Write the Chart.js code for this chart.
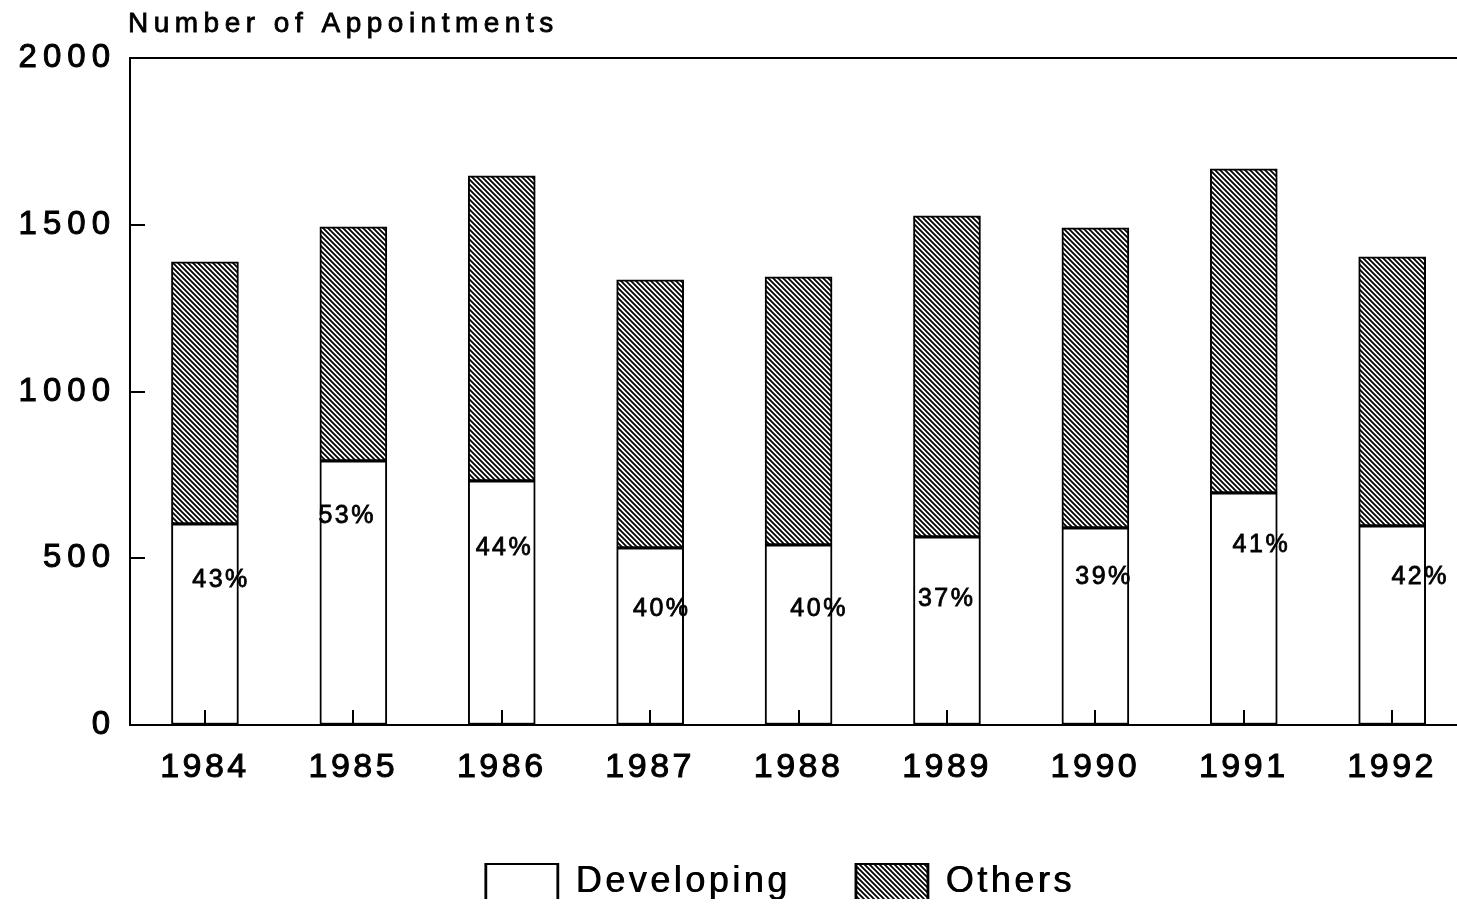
<!DOCTYPE html>
<html><head><meta charset="utf-8">
<script src="https://cdn.jsdelivr.net/npm/chart.js@4/dist/chart.umd.min.js"></script>
<style>html,body{margin:0;padding:0;background:#fff;}canvas{display:block;}</style>
</head><body>
<canvas id="c" width="1457" height="905"></canvas>
<script>
// ---- data ----
const years = [1984, 1985, 1986, 1987, 1988, 1989, 1990, 1991, 1992];
const xTickLabels = ['1984', '1985', '1986', '1987', '1988', '1989', '1990', '1991', '1992'];
const developing = [603, 792, 732, 531, 540, 564, 591, 696, 597];
const others = [786, 702, 915, 804, 804, 963, 900, 972, 807];
const shareLabels = ['43%', '53%', '44%', '40%', '40%', '37%', '39%', '41%', '42%'];
const yTickValues = [0, 500, 1000, 1500, 2000];
const yTickLabels = ['0', '500', '1000', '1500', '2000'];
const axisTitle = 'Number of Appointments';
const seriesNames = ['Developing', 'Others'];

const FONT = '"Liberation Sans", Arial, Helvetica, sans-serif';
Chart.defaults.font.family = FONT;
Chart.defaults.color = '#000';

function hatch() {
  const s = 5;
  const c = document.createElement('canvas');
  c.width = c.height = s;
  const g = c.getContext('2d');
  g.fillStyle = '#fff'; g.fillRect(0, 0, s, s);
  g.strokeStyle = '#000'; g.lineWidth = 1.8;
  g.beginPath();
  for (let k = -1; k <= 1; k++) { g.moveTo(k * s - 1, -1); g.lineTo(k * s + s + 1, s + 1); }
  g.stroke();
  return g.createPattern(c, 'repeat');
}

function wrapCtx(obj, name, props) {
  if (!obj || obj['__w_' + name]) return;
  const orig = obj[name];
  obj[name] = function (...a) {
    const c = this.ctx; const prev = {};
    for (const k in props) { prev[k] = c[k]; c[k] = props[k]; }
    try { return orig.apply(this, a); } finally { for (const k in prev) c[k] = prev[k]; }
  };
  obj['__w_' + name] = true;
}

const textPlugin = {
  id: 'textStyle',
  beforeLayout(chart) {
    wrapCtx(chart.legend, 'fit', { letterSpacing: '3.5px' });
    wrapCtx(chart.legend, 'draw', { letterSpacing: '3.5px', shadowColor: '#000', shadowOffsetX: 0.8, shadowOffsetY: 0, shadowBlur: 0 });
  },
  afterLayout(chart) {
    // nudge the legend block slightly left, as in the reference
    if (chart.legend) { chart.legend.left -= 13; chart.legend.right -= 13; }
  },
  beforeDraw(chart) {
    wrapCtx(chart.scales.x, 'drawLabels', { letterSpacing: '3.5px' });
    wrapCtx(chart.scales.y, 'drawLabels', { letterSpacing: '6px' });
  }
};

// short inward tick marks, drawn on top of the bars at the scales' tick positions
const innerTicksPlugin = {
  id: 'innerTicks',
  afterDraw(chart) {
    const ctx = chart.ctx, xs = chart.scales.x, ys = chart.scales.y, a = chart.chartArea;
    const len = 15;
    ctx.save();
    ctx.strokeStyle = '#000'; ctx.lineWidth = 2;
    ctx.beginPath();
    xs.ticks.forEach(t => {
      const px = Math.round(xs.getPixelForValue(t.value));
      ctx.moveTo(px, a.bottom); ctx.lineTo(px, a.bottom - len);
    });
    ys.ticks.forEach(t => {
      const py = Math.round(ys.getPixelForValue(t.value));
      ctx.moveTo(a.left, py); ctx.lineTo(a.left + len, py);
    });
    ctx.stroke();
    ctx.restore();
  }
};

const shareLabelPlugin = {
  id: 'shareLabels',
  afterDatasetsDraw(chart, args, opts) {
    const ctx = chart.ctx, xs = chart.scales.x, ys = chart.scales.y;
    ctx.save();
    ctx.font = '25px ' + FONT;
    ctx.letterSpacing = '2.5px';
    ctx.textAlign = 'center'; ctx.textBaseline = 'middle';
    ctx.fillStyle = '#000'; ctx.strokeStyle = '#000'; ctx.lineWidth = 0.8;
    shareLabels.forEach((t, i) => {
      const p = opts.placement[i];
      const x = xs.getPixelForValue(years[i] + p[0]) + 1.25, y = ys.getPixelForValue(p[1]);
      ctx.strokeText(t, x, y);
      ctx.fillText(t, x, y);
    });
    ctx.restore();
  }
};

const titlePlugin = {
  id: 'axisTitle',
  afterDraw(chart) {
    const ctx = chart.ctx;
    ctx.save();
    ctx.font = '28px ' + FONT;
    ctx.letterSpacing = '5.5px';
    ctx.textAlign = 'left'; ctx.textBaseline = 'alphabetic';
    ctx.fillStyle = '#000'; ctx.strokeStyle = '#000'; ctx.lineWidth = 0.8;
    ctx.strokeText(axisTitle, chart.chartArea.left - 2, 32);
    ctx.fillText(axisTitle, chart.chartArea.left - 2, 32);
    ctx.restore();
  }
};

const pattern = hatch();

new Chart(document.getElementById('c'), {
  type: 'bar',
  data: {
    datasets: [
      {
        label: seriesNames[0],
        data: years.map((y, i) => ({ x: y, y: developing[i] })),
        backgroundColor: '#fff', borderColor: '#000', borderWidth: 2, borderSkipped: false,
        barThickness: 67
      },
      {
        label: seriesNames[1],
        data: years.map((y, i) => ({ x: y, y: others[i] })),
        backgroundColor: pattern, borderColor: '#000', borderWidth: 2, borderSkipped: false,
        barThickness: 67
      }
    ]
  },
  options: {
    responsive: false,
    animation: false,
    devicePixelRatio: 1,
    layout: { padding: { top: 58, right: 1, bottom: 6, left: 0 } },
    scales: {
      x: {
        type: 'linear', stacked: true, position: 'bottom', offset: false,
        min: 1983.495, max: 1992.43,
        afterFit(s) { s.height = 74; s.paddingLeft = 0; s.paddingRight = 0; },
        grid: { display: true, offset: false, drawOnChartArea: false, drawTicks: false },
        border: { display: true, color: '#000', width: 2, z: 2 },
        ticks: {
          stepSize: 1, includeBounds: false, autoSkip: false, maxRotation: 0, padding: 22,
          font: { size: 34 }, color: '#000', textStrokeColor: '#000', textStrokeWidth: 1,
          callback: (v) => { const i = years.indexOf(v); return i >= 0 ? xTickLabels[i] : ''; }
        }
      },
      xTop: {
        type: 'linear', position: 'top', min: 0, max: 1, offset: false,
        afterFit(s) { s.height = 0; s.paddingLeft = 0; s.paddingRight = 0; },
        grid: { display: false },
        border: { display: true, color: '#000', width: 2, z: 2 },
        ticks: { display: false }
      },
      y: {
        stacked: true, min: 0, max: 2000,
        afterFit(s) { s.width = 130; },
        afterBuildTicks(s) { s.ticks = yTickValues.map(v => ({ value: v })); },
        grid: { display: true, drawOnChartArea: false, drawTicks: false },
        border: { display: true, color: '#000', width: 2, z: 2 },
        ticks: {
          padding: 14, font: { size: 33 }, color: '#000', textStrokeColor: '#000', textStrokeWidth: 1,
          callback: (v) => { const i = yTickValues.indexOf(v); return i >= 0 ? yTickLabels[i] : ''; }
        }
      }
    },
    plugins: {
      tooltip: { enabled: false },
      title: { display: false },
      legend: {
        position: 'bottom', align: 'center', fullSize: false, maxHeight: 100,
        labels: { boxWidth: 72, boxHeight: 36, padding: 65, font: { size: 36 }, color: '#000' }
      },
      shareLabels: {
        placement: [[0.10, 435], [-0.05, 627], [0.01, 531], [0.07, 348], [0.13, 348], [-0.01, 378], [0.05, 444], [0.11, 540], [0.18, 444]]
      }
    }
  },
  plugins: [textPlugin, innerTicksPlugin, shareLabelPlugin, titlePlugin]
});
</script>
</body></html>
